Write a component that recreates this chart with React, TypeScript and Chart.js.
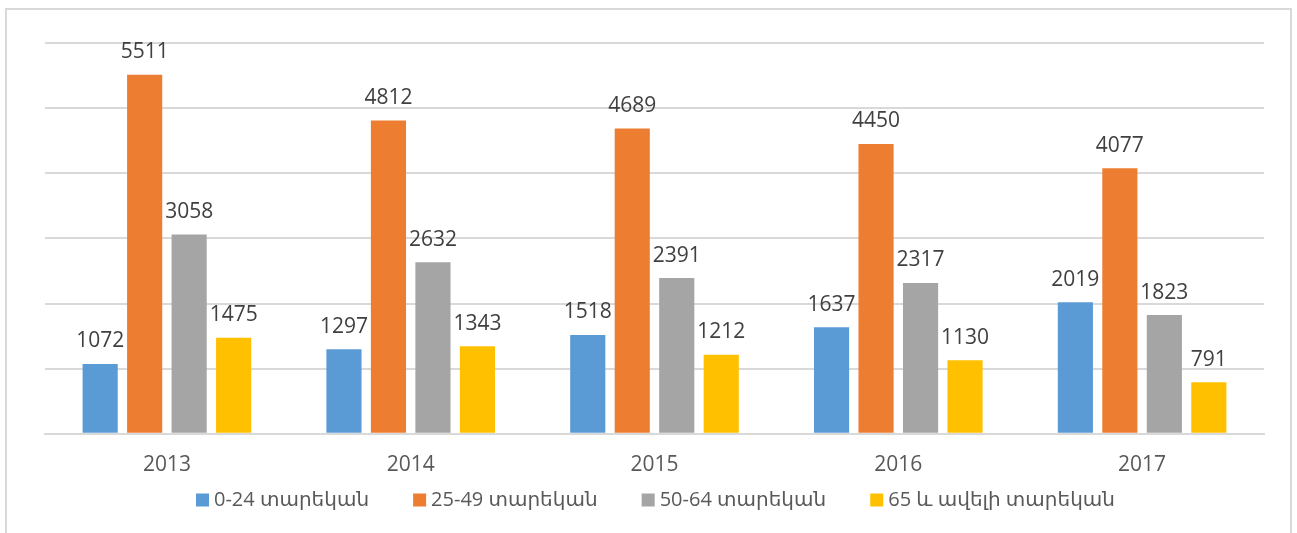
import React, { useEffect, useRef } from "react";
import { Chart, registerables } from "chart.js";

Chart.register(...registerables);

const categories = ["2013", "2014", "2015", "2016", "2017"];
const seriesNames = ["0-24 տարեկան", "25-49 տարեկան", "50-64 տարեկան", "65 և ավելի տարեկան"];
const age0to24 = [1072, 1297, 1518, 1637, 2019];
const age25to49 = [5511, 4812, 4689, 4450, 4077];
const age50to64 = [3058, 2632, 2391, 2317, 1823];
const age65plus = [1475, 1343, 1212, 1130, 791];
const seriesColors = ["#5b9bd5", "#ed7d31", "#a5a5a5", "#ffc000"];

const FONT = "'Open Sans', 'DejaVu Sans', sans-serif";

const labelPlugin = {
  id: "barValueLabels",
  afterDatasetsDraw(chart: any) {
    const ctx = chart.ctx;
    ctx.save();
    ctx.font = `21px ${FONT}`;
    ctx.fillStyle = "#404040";
    ctx.textAlign = "center";
    ctx.textBaseline = "bottom";
    chart.data.datasets.forEach((ds: any, i: number) => {
      const meta = chart.getDatasetMeta(i);
      meta.data.forEach((el: any, j: number) => {
        ctx.fillText(String(ds.data[j]), el.x, el.y - 12);
      });
    });
    ctx.restore();
  },
};

// Custom legend: first box at x=196, last text ends at x=1115, centred vertically at y=500
const legendPlugin = {
  id: "customLegend",
  afterDraw(chart: any) {
    const ctx = chart.ctx;
    ctx.save();
    ctx.font = `20px ${FONT}`;
    ctx.textBaseline = "middle";
    ctx.textAlign = "left";
    const box = 13;
    const gapText = 5;
    const startX = 196;
    const endX = 1115;
    const cy = 500;
    const ds = chart.data.datasets;
    const widths = ds.map((d: any) => box + gapText + ctx.measureText(d.label).width);
    const total = widths.reduce((a: number, b: number) => a + b, 0);
    const gap = (endX - startX - total) / (ds.length - 1);
    let x = startX;
    ds.forEach((d: any, i: number) => {
      ctx.fillStyle = d.backgroundColor;
      ctx.fillRect(x, cy - box / 2, box, box);
      ctx.fillStyle = "#595959";
      ctx.fillText(d.label, x + box + gapText, cy);
      x += widths[i] + gap;
    });
    ctx.restore();
  },
};

export default function App() {
  const ref = useRef<HTMLCanvasElement | null>(null);
  useEffect(() => {
    if (!ref.current) return;
    const values = [age0to24, age25to49, age50to64, age65plus];
    const chart = new Chart(ref.current, {
      type: "bar",
      data: {
        labels: categories,
        datasets: values.map((v, i) => ({
          label: seriesNames[i],
          data: v,
          backgroundColor: seriesColors[i],
          borderWidth: 0,
          categoryPercentage: 0.73,
          barPercentage: 0.79,
        })),
      },
      options: {
        animation: false,
        responsive: false,
        maintainAspectRatio: false,
        layout: { padding: { left: 45, right: 33, top: 43, bottom: 36 } },
        plugins: {
          legend: { display: false },
          tooltip: { enabled: false },
        },
        scales: {
          x: {
            grid: { display: false, drawTicks: false },
            border: { display: true, color: "#d9d9d9", width: 2 },
            ticks: { font: { family: FONT, size: 21 }, color: "#595959", padding: 19 },
          },
          y: {
            min: 0,
            max: 6000,
            ticks: { display: false, stepSize: 1000 },
            grid: { color: "#d9d9d9", lineWidth: 2, drawTicks: false },
            border: { display: false },
          },
        },
      },
      plugins: [labelPlugin, legendPlugin],
    });
    return () => chart.destroy();
  }, []);
  return (
    <div style={{ position: "fixed", left: 0, top: 0, width: 1297, height: 533, background: "#fff", overflow: "hidden" }}>
      <div
        style={{
          position: "absolute",
          left: 5,
          top: 8,
          width: 1287,
          height: 600,
          border: "2px solid #d9d9d9",
          boxSizing: "border-box",
        }}
      />
      <canvas ref={ref} width={1297} height={533} style={{ position: "absolute", left: 0, top: 0, width: 1297, height: 533 }} />
    </div>
  );
}
